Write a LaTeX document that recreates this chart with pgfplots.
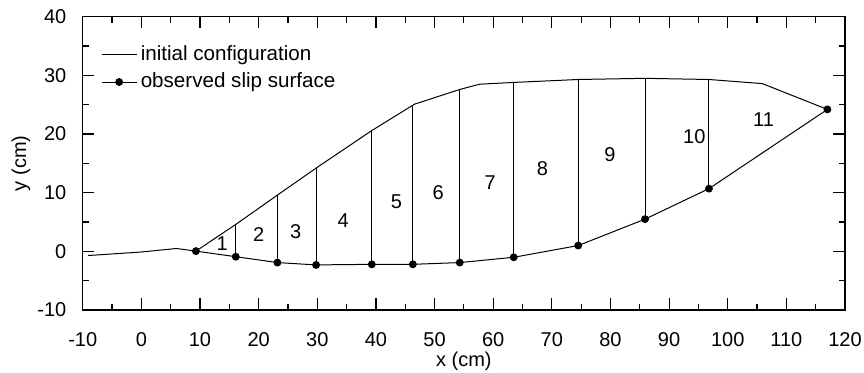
\documentclass[border=0pt]{standalone}
\usepackage{pgfplots}
\pgfplotsset{compat=1.18}
\usepackage{fontspec}
\setmainfont{Liberation Sans}
\begin{document}
\fontsize{10}{12}\selectfont
\begin{tikzpicture}
\begin{axis}[name=ax, scale only axis, width=381pt, height=146.65pt,
 xmin=-10, xmax=120, ymin=-10, ymax=40,
 xtick={-10,0,...,120}, ytick={-10,0,...,40}, minor tick num=1,
 tick align=inside, major tick length=5.8pt, minor tick length=3pt,
 every tick/.style={line width=0.6pt, black},
 axis line style={line width=0.7pt},
 /pgf/number format/assume math mode=true,
 tick label style={font=\fontsize{10}{12}\selectfont},
 xticklabel style={yshift=-7.5pt},
 yticklabel style={xshift=-4.7pt},
 xlabel={x (cm)}, ylabel={y (cm)},
 label style={font=\fontsize{10}{12}\selectfont},
 xlabel style={at={(axis description cs:0.5,-0.176)}, anchor=center},
 ylabel style={at={(axis description cs:-0.081,0.5)}, anchor=center},
 legend cell align=left,
 legend image code/.code={\draw[mark repeat=2,mark phase=2,#1] plot coordinates {(0pt,0pt) (8.75pt,0pt) (17.5pt,0pt)};},
 legend style={draw=none, fill=none, at={(axis description cs:0,1)}, anchor=north west,
   xshift=9pt, yshift=-14pt, inner sep=0pt, row sep=5pt, column sep=1.8pt,
   nodes={inner sep=0pt},
   font=\fontsize{10.3}{12}\selectfont},
]
\addplot[black, line width=0.5pt] coordinates {
 (-9.1,-0.7) (0,-0.1) (6,0.5) (9.3,0.05) (16.1,4.6) (23.2,9.6) (29.8,14.2)
 (39.3,20.6) (46.6,25.1) (54.3,27.6) (57.7,28.5) (63.5,28.8) (74.5,29.3)
 (85.9,29.5) (96.8,29.3) (105.9,28.6) (117,24.2)};
\addlegendentry{initial configuration}
\addplot[black, line width=0.5pt, mark=*, mark size=1.7pt] coordinates {
 (9.3,0.05) (16.1,-0.9) (23.2,-1.9) (29.8,-2.3) (39.3,-2.2) (46.3,-2.2)
 (54.3,-1.9) (63.5,-1.0) (74.5,1.0) (85.9,5.5) (96.8,10.7) (117,24.2)};
\addlegendentry{observed slip surface}
\addplot[black, line width=0.5pt, forget plot] coordinates {(16.1,-0.9) (16.1,4.6)};
\addplot[black, line width=0.5pt, forget plot] coordinates {(23.2,-1.9) (23.2,9.6)};
\addplot[black, line width=0.5pt, forget plot] coordinates {(29.8,-2.3) (29.8,14.2)};
\addplot[black, line width=0.5pt, forget plot] coordinates {(39.3,-2.2) (39.3,20.6)};
\addplot[black, line width=0.5pt, forget plot] coordinates {(46.3,-2.2) (46.3,25.0)};
\addplot[black, line width=0.5pt, forget plot] coordinates {(54.3,-1.9) (54.3,27.6)};
\addplot[black, line width=0.5pt, forget plot] coordinates {(63.5,-1.0) (63.5,28.8)};
\addplot[black, line width=0.5pt, forget plot] coordinates {(74.5,1.0) (74.5,29.3)};
\addplot[black, line width=0.5pt, forget plot] coordinates {(85.9,5.5) (85.9,29.5)};
\addplot[black, line width=0.5pt, forget plot] coordinates {(96.8,10.7) (96.8,29.3)};
\node[font=\fontsize{10}{12}\selectfont] at (axis cs:13.8,1.3) {1};
\node[font=\fontsize{10}{12}\selectfont] at (axis cs:20.0,2.9) {2};
\node[font=\fontsize{10}{12}\selectfont] at (axis cs:26.3,3.3) {3};
\node[font=\fontsize{10}{12}\selectfont] at (axis cs:34.4,5.3) {4};
\node[font=\fontsize{10}{12}\selectfont] at (axis cs:43.5,8.4) {5};
\node[font=\fontsize{10}{12}\selectfont] at (axis cs:50.6,10.1) {6};
\node[font=\fontsize{10}{12}\selectfont] at (axis cs:59.5,11.8) {7};
\node[font=\fontsize{10}{12}\selectfont] at (axis cs:68.4,14.1) {8};
\node[font=\fontsize{10}{12}\selectfont] at (axis cs:79.9,16.5) {9};
\node[font=\fontsize{10}{12}\selectfont] at (axis cs:94.3,19.5) {10};
\node[font=\fontsize{10}{12}\selectfont] at (axis cs:106.1,22.4) {11};
\end{axis}
\pgfresetboundingbox
\path[use as bounding box] ([shift={(-41.35pt,-31pt)}]ax.south west) rectangle ([shift={(9.5pt,8.35pt)}]ax.north east);
\end{tikzpicture}
\end{document}
